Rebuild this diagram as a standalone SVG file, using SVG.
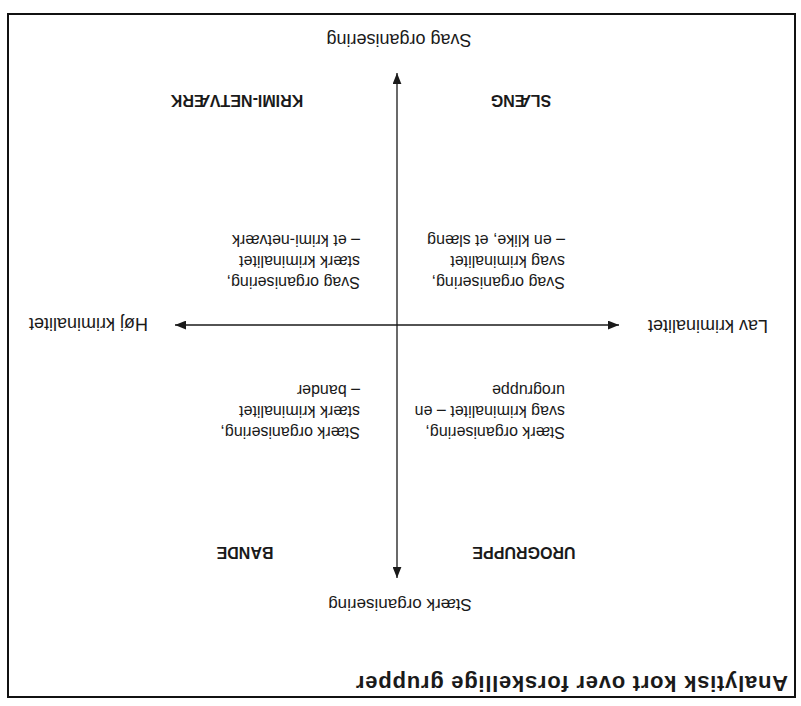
<svg xmlns="http://www.w3.org/2000/svg" width="801" height="706" viewBox="0 0 801 706">
  <style>
    text { font-family: "Liberation Sans", Arial, sans-serif; fill: #1a1a1a; }
    .title { font-size: 22px; font-weight: bold; }
    .axis { font-size: 17px; }
    .side { font-size: 18px; }
    .cap { font-size: 16px; font-weight: bold; }
    .desc { font-size: 16px; }
    .ax { stroke: #1a1a1a; stroke-width: 1.3; fill: none; }
  </style>
  <defs>
    <marker id="arr" viewBox="0 0 10 8" refX="10" refY="4" markerWidth="11" markerHeight="9" markerUnits="userSpaceOnUse" orient="auto-start-reverse">
      <path d="M0,0 L10,4 L0,8 z" fill="#1a1a1a"/>
    </marker>
  </defs>
  <rect x="8" y="14" width="787" height="683" fill="#ffffff" stroke="#111" stroke-width="2"/>
  <g transform="rotate(180 400.5 353)">
    <g id="title">
      <text class="title" x="13" y="30" textLength="432" lengthAdjust="spacing">Analytisk kort over forskellige grupper</text>
    </g>
    <g id="connectors">
      <line class="ax" x1="404" y1="128" x2="404" y2="633" marker-start="url(#arr)" marker-end="url(#arr)"/>
      <line class="ax" x1="182" y1="381" x2="626" y2="381" marker-start="url(#arr)" marker-end="url(#arr)"/>
    </g>
    <g id="label-staerk">
      <text class="axis" x="401" y="107" text-anchor="middle">Stærk organisering</text>
    </g>
    <g id="label-svag">
      <text class="side" x="402" y="672" text-anchor="middle">Svag organisering</text>
    </g>
    <g id="label-lav">
      <text class="side" x="33" y="386">Lav kriminalitet</text>
    </g>
    <g id="label-hoej">
      <text class="side" x="653" y="388">Høj kriminalitet</text>
    </g>
    <g id="urogruppe">
      <text class="cap" x="277" y="159" text-anchor="middle">UROGRUPPE</text>
      <text class="desc" x="236" y="279">Stærk organisering,</text>
      <text class="desc" x="236" y="300">svag kriminalitet – en</text>
      <text class="desc" x="236" y="321">urogruppe</text>
    </g>
    <g id="bande">
      <text class="cap" x="556" y="159" text-anchor="middle">BANDE</text>
      <text class="desc" x="441" y="279">Stærk organisering,</text>
      <text class="desc" x="441" y="300">stærk kriminalitet</text>
      <text class="desc" x="441" y="321">– bander</text>
    </g>
    <g id="slaeng">
      <text class="desc" x="236" y="429">Svag organisering,</text>
      <text class="desc" x="236" y="450">svag kriminalitet</text>
      <text class="desc" x="236" y="471">– en klike, et slæng</text>
      <text class="cap" x="280" y="611" text-anchor="middle">SLÆNG</text>
    </g>
    <g id="krimi-netvaerk">
      <text class="desc" x="441" y="429">Svag organisering,</text>
      <text class="desc" x="441" y="450">stærk kriminalitet</text>
      <text class="desc" x="441" y="471">– et krimi-netværk</text>
      <text class="cap" x="564" y="611" text-anchor="middle">KRIMI-NETVÆRK</text>
    </g>
  </g>
</svg>
